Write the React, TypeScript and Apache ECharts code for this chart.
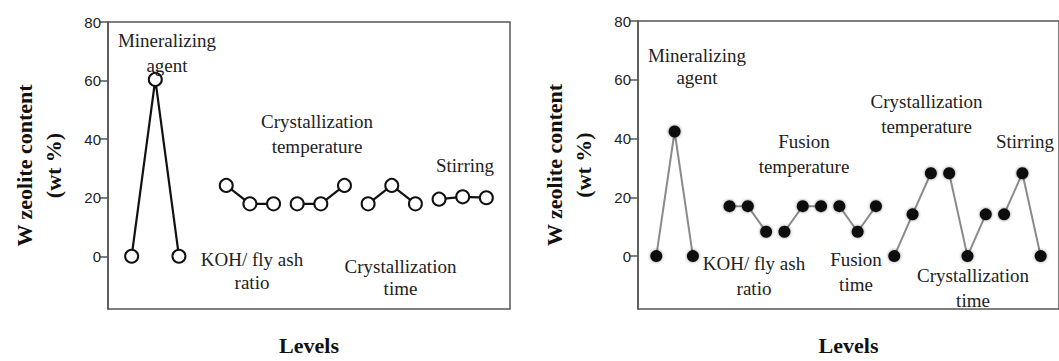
import { useEffect, useRef } from "react";
import * as echarts from "echarts";

// ---- data ----
const yTickValues = [0, 20, 40, 60, 80];

const leftFactors = ["Mineralizing agent", "KOH/ fly ash ratio", "Crystallization temperature", "Crystallization time", "Stirring"];
const leftStarts = [0, 4, 7, 10, 13];
const leftValues = [
  [0, 60.4, 0],
  [24.2, 17.9, 17.9],
  [17.9, 17.9, 24.2],
  [17.9, 24.2, 17.9],
  [19.5, 20.3, 20.0],
];

const rightFactors = ["Mineralizing agent", "KOH/ fly ash ratio", "Fusion temperature", "Fusion time", "Crystallization temperature", "Crystallization time", "Stirring"];
const rightStarts = [0, 4, 7, 10, 13, 16, 19];
const rightValues = [
  [0, 42.4, 0],
  [17, 17, 8.3],
  [8.3, 17, 17],
  [17, 8.3, 17],
  [0, 14.2, 28.2],
  [28.2, 0, 14.2],
  [14.2, 28.2, 0],
];

const yTitle = "W zeolite content\n(wt %)";
const xTitle = "Levels";

// annotation texts (left / right panels)
const leftNotes = ["Mineralizing\nagent", "KOH/ fly ash\nratio", "Crystallization\ntemperature", "Crystallization\ntime", "Stirring"];
const rightNotes = ["Mineralizing\nagent", "KOH/ fly ash\nratio", "Fusion\ntemperature", "Fusion\ntime", "Crystallization\ntemperature", "Crystallization\ntime", "Stirring"];

const SERIF = "'Liberation Serif', 'Times New Roman', serif";
const SANS = "'Liberation Sans', Arial, sans-serif";

export default function App() {
  const ref = useRef<HTMLDivElement>(null);

  useEffect(() => {
    if (!ref.current) return;
    const chart = echarts.init(ref.current, undefined, { renderer: "svg" });

    const yAxisBase = (gridIndex: number) => ({
      type: "value",
      gridIndex,
      min: -18,
      max: 80,
      name: yTitle,
      nameLocation: "middle",
      nameRotate: 90,
      nameGap: 40,
      nameTextStyle: { fontFamily: SERIF, fontWeight: "bold", fontSize: 22, lineHeight: 29, color: "#111" },
      axisLine: { show: true, onZero: false, lineStyle: { color: "#555", width: 1.5 } },
      axisTick: { show: true, length: 8, customValues: yTickValues, lineStyle: { color: "#555", width: 1.5 } },
      axisLabel: { show: true, customValues: yTickValues, margin: 7, fontFamily: SANS, fontSize: 15, color: "#222" },
      splitLine: { show: false },
    });

    const xAxisBase = (gridIndex: number, max: number) => ({
      type: "value",
      gridIndex,
      min: -1,
      max,
      name: xTitle,
      nameLocation: "middle",
      nameGap: 25,
      nameTextStyle: { fontFamily: SERIF, fontWeight: "bold", fontSize: 22, color: "#111" },
      axisLine: { show: false, onZero: false },
      axisTick: { show: false },
      axisLabel: { show: false },
      splitLine: { show: false },
    });

    const leftSeries = leftFactors.map((name, i) => ({
      type: "line",
      name,
      xAxisIndex: 0,
      yAxisIndex: 0,
      data: leftValues[i].map((v, j) => [leftStarts[i] + j, v]),
      symbol: "circle",
      symbolSize: 13,
      lineStyle: { color: "#111", width: 2.2 },
      itemStyle: { color: "#fff", borderColor: "#111", borderWidth: 2 },
      z: 3,
    }));

    const rightSeries = rightFactors.map((name, i) => ({
      type: "line",
      name,
      xAxisIndex: 1,
      yAxisIndex: 1,
      data: rightValues[i].map((v, j) => [rightStarts[i] + j, v]),
      symbol: "circle",
      symbolSize: 12,
      lineStyle: { color: "#8a8a8a", width: 2 },
      itemStyle: { color: "#111", borderColor: "#111", borderWidth: 0, shadowBlur: 3, shadowColor: "rgba(0,0,0,0.5)" },
      z: 3,
    }));

    const note = (text: string, x: number, y: number, lineHeight = 25, align = "center") => ({
      type: "text",
      x,
      y,
      z: 10,
      style: {
        text,
        fontFamily: SERIF,
        fontSize: 19,
        lineHeight,
        fill: "#222",
        align,
        verticalAlign: "middle",
      },
    });

    const graphic = [
      note(leftNotes[0], 167, 52.5, 25),
      note(leftNotes[1], 252, 271, 23),
      note(leftNotes[2], 317, 134, 25),
      note(leftNotes[3], 400.5, 277.5, 22),
      note(leftNotes[4], 465, 165.7, 25),
      note(rightNotes[0], 697, 66, 22),
      note(rightNotes[1], 754, 275.5, 25),
      note(rightNotes[2], 804, 154, 25),
      note(rightNotes[3], 856, 272, 25.5),
      note(rightNotes[4], 926.5, 114, 25.5),
      note(rightNotes[5], 973, 287.5, 25),
      note(rightNotes[6], 996, 141.7, 25, "left"),
    ];

    chart.setOption({
      animation: false,
      backgroundColor: "#fff",
      grid: [
        { left: 108, top: 22, width: 402, height: 292, show: true, borderColor: "#555", borderWidth: 1.5, backgroundColor: "transparent" },
        { left: 638, top: 21, right: -6, height: 292, show: true, borderColor: "#555", borderWidth: 1.5, backgroundColor: "transparent" },
      ],
      xAxis: [xAxisBase(0, 16), xAxisBase(1, 22)],
      yAxis: [yAxisBase(0), yAxisBase(1)],
      series: [...leftSeries, ...rightSeries],
      graphic,
    });

    return () => chart.dispose();
  }, []);

  return (
    <div
      ref={ref}
      style={{ position: "absolute", left: 0, top: 0, width: 1059, height: 361, background: "#fff" }}
    />
  );
}
